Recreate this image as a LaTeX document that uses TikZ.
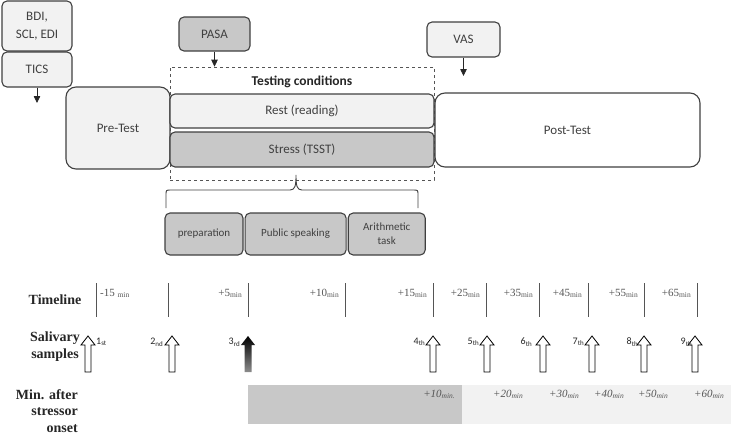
\documentclass[tikz,border=0pt]{standalone}
\usepackage{fontspec}
\setmainfont{Liberation Serif}
\newfontfamily\cali{Carlito}
\usetikzlibrary{arrows.meta,positioning,shadings}
\definecolor{lightfill}{HTML}{F2F2F2}
\definecolor{darkfill}{HTML}{C8C8C8}
\definecolor{boxline}{HTML}{404040}
\definecolor{labelgray}{HTML}{555555}
\newcommand{\minsub}[1][min]{{\fontsize{7.5}{8}\selectfont\raisebox{-1.6pt}{#1}}}
\newcommand{\ordsub}[1]{{\fontsize{7}{8}\selectfont\raisebox{-1.6pt}{#1}}}
\tikzset{
  lightbox/.style={draw=boxline, line width=1.1pt, rounded corners=5pt, fill=lightfill, text=boxline, inner sep=0pt, align=center, font=\cali\fontsize{13}{18}\selectfont},
  darkbox/.style={lightbox, fill=darkfill},
  bigbox/.style={lightbox, rounded corners=10pt},
  subfont/.style={font=\cali\fontsize{11}{14}\selectfont},
  condbox/.style={draw=labelgray, dashed, line width=0.6pt, inner sep=0pt},
  pointer/.style={draw=black!85, line width=0.8pt, -{Triangle[width=6.5pt,length=7pt]}},
  tick/.style={draw=labelgray, line width=0.8pt},
  rowlabel/.style={font=\bfseries\fontsize{14}{17}\selectfont, text=black!85, inner sep=0pt},
  tlabel/.style={font=\fontsize{11}{12}\selectfont, text=labelgray, inner sep=0pt},
  ilabel/.style={tlabel, font=\itshape\fontsize{11}{12}\selectfont},
  ordlabel/.style={font=\cali\fontsize{10}{12}\selectfont, text=black!85, inner sep=0pt},
  pics/saliva/.style={code={
    \draw[line width=0.8pt, fill=white] (-3,0) -- (-3,-27) -- (-7,-27) -- (0,-36) -- (7,-27) -- (3,-27) -- (3,0) -- cycle;}},
  pics/salivadark/.style={code={
    \shade[top color=black, bottom color=black!45] (-3.5,0) -- (-3.5,-27) -- (-7,-27) -- (0,-36) -- (7,-27) -- (3.5,-27) -- (3.5,0) -- cycle;}},
}
\begin{document}
\begin{tikzpicture}[x=1pt,y=-1pt]
\useasboundingbox (0,0) rectangle (731,434);
% questionnaires
\node[lightbox, minimum width=70pt, minimum height=50pt] (bdi) at (37,26) {BDI,\\SCL, EDI};
\node[lightbox, minimum width=70pt, minimum height=35pt] (tics) at (37,69.5) {TICS};
\node[darkbox, minimum width=71pt, minimum height=34pt] (pasa) at (214.5,34) {PASA};
\node[lightbox, minimum width=73pt, minimum height=35pt] (vas) at (463.5,39.5) {VAS};
% testing conditions
\node[condbox, minimum width=264pt, minimum height=113pt] (cond) at (302,123.5) {};
\node[font=\cali\bfseries\fontsize{13.5}{15}\selectfont, text=black!85] (condlabel) at (302,82) {Testing conditions};
\node[bigbox, minimum width=104pt, minimum height=82pt] (pre) at (118,128) {Pre-Test};
\node[lightbox, minimum width=264pt, minimum height=34pt] (rest) at (302,111) {Rest (reading)};
\node[darkbox, minimum width=264pt, minimum height=35pt] (stress) at (302,149.5) {Stress (TSST)};
\node[bigbox, fill=white, minimum width=265pt, minimum height=74pt] (post) at (567.5,130) {Post-Test};
\coordinate (ticsend) at (37,103);
\coordinate (vasend) at (463.5,76);
\draw[pointer] (tics.south) -- (ticsend);
\draw[pointer] (pasa.south) -- (pasa.south |- cond.north);
\draw[pointer] (vas.south) -- (vasend);
% TSST parts
\draw[boxline, line width=0.9pt] (166,208) -- (166,195) .. controls (166,190) .. (171,190) -- (290,190)
  .. controls (295,190) and (296,186) .. (296,175) .. controls (296,186) and (297,190) .. (302,190)
  -- (413,190) .. controls (418,190) .. (418,195) -- (418,208);
\node[darkbox, subfont, minimum width=78pt, minimum height=42pt] (prep) at (204,234) {preparation};
\node[darkbox, subfont, minimum width=101pt, minimum height=42pt, right=1pt of prep] (speak) {Public speaking};
\node[darkbox, subfont, minimum width=77pt, minimum height=42pt, right=1pt of speak] (arith) {Arithmetic\\task};
% timeline
\node[rowlabel] (timeline) at (55,300) {Timeline};
\foreach \x in {96,168,248,345,433,486,539,588,644,697}
  \draw[tick] (\x,283) -- (\x,317);
\node[tlabel, anchor=base west] (t96) at (100,296) {-15 \minsub};
\foreach \x/\t in {248/+5, 345/+10, 433/+15, 486/+25, 539/+35, 588/+45, 644/+55, 697/+65}
  \node[tlabel, anchor=base east] (t\x) at (\x-6,296) {\t\minsub};
% salivary samples
\node[rowlabel, align=center] (samples) at (55,346.5) {Salivary\\samples};
\pic at (88,372) {saliva};
\node[ordlabel, anchor=west] (o1) at (96,342) {1\ordsub{st}};
\pic at (248,372) {salivadark};
\node[ordlabel, anchor=east] (o3) at (240,342) {3\ordsub{rd}};
\foreach \x/\lx/\n/\s in {172/163/2/nd, 433/425/4/th, 487/479/5/th, 543/532/6/th, 592/584/7/th, 644/638/8/th, 695/692/9/th} {
  \pic at (\x,372) {saliva};
  \node[ordlabel, anchor=east] (o\n) at (\lx,342) {\n\ordsub{\s}};
}
% minutes after stressor onset
\node[rowlabel, font=\bfseries\fontsize{14}{16.5}\selectfont, align=right, anchor=east] (onset) at (78,411) {Min. after\\stressor\\onset};
\fill[darkfill] (248,385) rectangle (462,424);
\fill[lightfill] (462,385) rectangle (731,424);
\node[ilabel, anchor=base east] (m10) at (455,397) {+10\minsub[min.]};
\foreach \x/\t in {523/+20, 579/+30, 624/+40, 668/+50, 724/+60}
  \node[ilabel, anchor=base east] (m\x) at (\x,397) {\t\minsub};
\end{tikzpicture}
\end{document}
